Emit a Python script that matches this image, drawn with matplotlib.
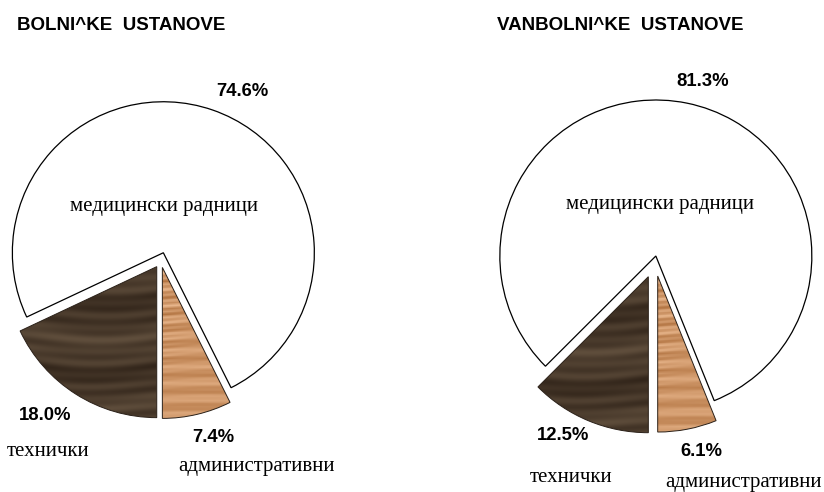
import numpy as np
import matplotlib
matplotlib.use("Agg")
import matplotlib.pyplot as plt

# ---- data ----
categories = ["административни", "медицински радници", "технички"]
titles = ["BOLNI^KE  USTANOVE", "VANBOLNI^KE  USTANOVE"]
hospital = [7.4, 74.6, 18.0]
outpatient = [6.1, 81.3, 12.5]
pct_labels_h = ["7.4%", "74.6%", "18.0%"]
pct_labels_o = ["6.1%", "81.3%", "12.5%"]

W, H = 824, 492
fig = plt.figure(figsize=(W / 100, H / 100), dpi=100)
ax = fig.add_axes([0, 0, 1, 1])
ax.set_xlim(0, W)
ax.set_ylim(0, H)
ax.set_aspect("equal")
ax.axis("off")

SANS = "Liberation Sans"
SERIF = "Liberation Serif"


def wood(h, w, c_dark, c_light, freq, warp_amp, fine, bias, amp):
    yy, xx = np.mgrid[0:h, 0:w].astype(float)
    warp = warp_amp * (np.sin(xx / 61.0 + yy / 77.0) + 0.5 * np.sin(xx / 23.0 - yy / 41.0))
    g = np.sin((yy + warp) * freq)
    g2 = np.sin((yy + 1.6 * warp) * freq * 2.9 + 1.3)
    g3 = np.sin((yy + 0.7 * warp) * fine + 0.4)
    t = bias + amp * (0.18 * g + 0.12 * g2 + 0.14 * g3)
    t = np.clip(t, 0, 1)[..., None]
    c0 = np.array(matplotlib.colors.to_rgb(c_dark))
    c1 = np.array(matplotlib.colors.to_rgb(c_light))
    return c0 + (c1 - c0) * t


def draw_pie(values, center, radius, explode, pct_labels, pct_pos, cat_pos, title, title_pos):
    wedges, _ = ax.pie(values, center=center, radius=radius, startangle=-90,
                       counterclock=True, explode=explode,
                       wedgeprops=dict(edgecolor="black", linewidth=0.8))
    ax.set_xlim(0, W)
    ax.set_ylim(0, H)
    wedges[1].set_facecolor("white")
    wedges[1].set_linewidth(0.9)
    textures = [wood(200, 200, "#a2602b", "#e8b68c", 0.6, 2.0, 1.7, 0.62, 1.0),
                None,
                wood(200, 200, "#33261b", "#7a6650", 0.14, 5.0, 0.8, 0.3, 0.75)]
    for wdg, tex in zip(wedges, textures):
        if tex is None:
            continue
        wdg.set_facecolor("none")
        wdg.set_edgecolor("#2a2018")
        wdg.set_linewidth(0.7)
        wdg.set_zorder(3)
        c = wdg.center
        r = wdg.r
        im = ax.imshow(tex, extent=(c[0] - r, c[0] + r, c[1] - r, c[1] + r),
                       origin="lower", zorder=2, interpolation="bilinear")
        im.set_clip_path(wdg)
    for lab, (x, y) in zip(pct_labels, pct_pos):
        ax.text(x, H - y, lab, ha="center", va="center", fontsize=13.3,
                fontweight="bold", family=SANS, zorder=5)
    for lab, (x, y) in zip(categories, cat_pos):
        ax.text(x, H - y, lab, ha="center", va="center", fontsize=15,
                family=SERIF, zorder=5)
    ax.text(title_pos[0], H - title_pos[1], title, ha="left", va="center",
            fontsize=13.5, fontweight="bold", family=SANS)


draw_pie(hospital, (160.7, H - 260.4), 151, [7.2, 8.1, 7.4], pct_labels_h,
         [(213, 437), (242, 92), (45, 415)],
         [(257, 467), (164, 206), (48, 452)],
         titles[0], (17, 26))

draw_pie(outpatient, (654.8, H - 261.1), 156, [15.2, 5.2, 16.9], pct_labels_o,
         [(701, 452), (703, 81), (563, 435)],
         [(744, 482), (660, 205), (571, 477)],
         titles[1], (497, 26))

fig.savefig("out.png", dpi=100)
